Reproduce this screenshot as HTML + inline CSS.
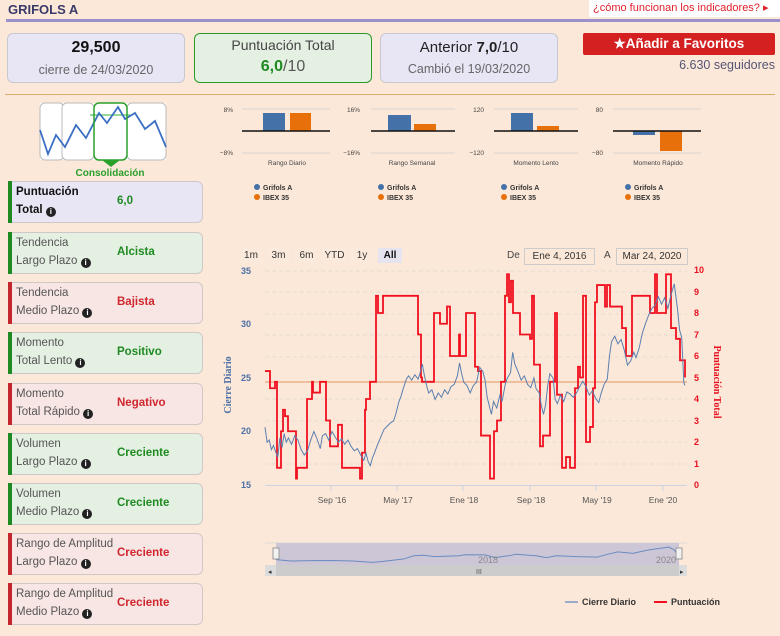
<!DOCTYPE html>
<html><head><meta charset="utf-8">
<style>
*{margin:0;padding:0;box-sizing:border-box}
body{width:780px;height:636px;background:#fce8d8;font-family:"Liberation Sans",sans-serif;position:relative;overflow:hidden;color:#333}
.a{position:absolute}
.card{position:absolute;border:1px solid #c8c8d0;border-radius:6px;text-align:center}
.lc{position:absolute;left:8px;width:195px;height:42px;border:1px solid #d0c8c8;border-radius:6px;font-size:11.5px;color:#555}
.lc .b{position:absolute;left:-1px;top:-1px;bottom:-1px;width:4px}
.lc .t1{position:absolute;left:7px;top:4px}
.lc .t2{position:absolute;left:7px;top:22px}
.lc .v{position:absolute;left:108px;top:13px;font-weight:bold;font-size:11.5px}
.g{background:#e4f0e2}.g .b{background:#1f8a22}.g .v{color:#1f8a22}
.r{background:#f8e6e4}.r .b{background:#c4262e}.r .v{color:#d0262e}
.i{display:inline-block;width:10px;height:10px;border-radius:50%;background:#222;color:#fff;font-size:8px;line-height:10px;text-align:center;font-weight:bold;vertical-align:-1px}
.btn{position:absolute;top:248px;height:15px;font-size:10px;color:#333;text-align:center;line-height:15px;background:#fbeadc}
</style></head><body>

<div class="a" style="left:8px;top:2px;font-weight:bold;font-size:13px;color:#3a3a6a">GRIFOLS A</div>
<div class="a" style="left:589px;top:0;width:191px;height:17px;background:#fff;color:#e0202a;font-size:11px;line-height:17px;padding-left:4px">¿cómo funcionan los indicadores? ▸</div>
<div class="a" style="left:6px;top:19px;width:774px;height:3px;background:#9b90cc"></div>

<div class="card" style="left:7px;top:33px;width:178px;height:50px;background:#e8e6f5">
 <div style="font-weight:bold;font-size:16px;color:#111;margin-top:5px">29,500</div>
 <div style="font-size:12.5px;color:#666;margin-top:6px">cierre de 24/03/2020</div></div>
<div class="card" style="left:194px;top:33px;width:178px;height:50px;background:#e4f1e2;border-color:#2a9a2a">
 <div style="font-size:14px;color:#444;margin-top:3px">Puntuación Total</div>
 <div style="font-size:16px;color:#555;margin-top:5px"><b style="color:#1f8a22">6,0</b>/10</div></div>
<div class="card" style="left:380px;top:33px;width:178px;height:50px;background:#e8e6f5">
 <div style="font-size:15px;color:#222;margin-top:5px">Anterior <b>7,0</b>/10</div>
 <div style="font-size:12.5px;color:#666;margin-top:6px">Cambió el 19/03/2020</div></div>
<div class="a" style="left:583px;top:33px;width:192px;height:22px;background:#d42020;border-radius:2px;color:#fff;font-weight:bold;font-size:13.5px;text-align:center;line-height:22px">★Añadir a Favoritos</div>
<div class="a" style="left:600px;top:58px;width:175px;text-align:right;font-size:12.5px;color:#555577">6.630 seguidores</div>
<div class="a" style="left:5px;top:94px;width:770px;height:1px;background:#d8ae6a"></div>

<svg class="a" style="left:0;top:0" width="780" height="636">
 <rect x="40" y="103" width="126" height="57" fill="#fff"/>
 <rect x="40" y="103" width="24" height="57" rx="5" fill="#fff" stroke="#bbb"/>
 <rect x="62" y="103" width="32" height="57" rx="5" fill="#fff" stroke="#bbb"/>
 <rect x="127" y="103" width="39" height="57" rx="5" fill="#fff" stroke="#bbb"/>
 <line x1="90" y1="115" x2="130" y2="115" stroke="#7c7" stroke-width="1.5"/>
 <polyline fill="none" stroke="#3a6fc4" stroke-width="1.8" points="40,130 48,154 56,135 65,147 76,125 86,138 99,113 107,123 118,107 125,119 135,113 145,129 155,121 166,147"/>
 <rect x="94" y="103" width="33" height="57" rx="5" fill="none" stroke="#2aa02a" stroke-width="1.5"/>
 <polygon points="102,160 120,160 111,167" fill="#2aa02a"/>
 <text x="110" y="176" font-size="10" font-weight="bold" fill="#2aa02a" text-anchor="middle">Consolidación</text>

 <g font-size="6.5" fill="#444">
 <g stroke="#e4dcd6" stroke-width="1.5"><line x1="242" y1="109" x2="330" y2="109"/><line x1="242" y1="153" x2="330" y2="153"/>
 <line x1="371" y1="109" x2="455" y2="109"/><line x1="371" y1="153" x2="455" y2="153"/>
 <line x1="494" y1="109" x2="578" y2="109"/><line x1="494" y1="153" x2="578" y2="153"/>
 <line x1="613" y1="109" x2="701" y2="109"/><line x1="613" y1="153" x2="701" y2="153"/></g>
 <text x="233" y="112" text-anchor="end">8%</text><text x="233" y="155" text-anchor="end">−8%</text>
 <text x="360" y="112" text-anchor="end">16%</text><text x="360" y="155" text-anchor="end">−16%</text>
 <text x="484" y="112" text-anchor="end">120</text><text x="484" y="155" text-anchor="end">−120</text>
 <text x="603" y="112" text-anchor="end">80</text><text x="603" y="155" text-anchor="end">−80</text>
 <rect x="263" y="113" width="22" height="18" fill="#4472a8"/><rect x="290" y="113" width="21" height="18" fill="#e8700a"/>
 <rect x="388" y="115" width="23" height="16" fill="#4472a8"/><rect x="414" y="124" width="22" height="7" fill="#e8700a"/>
 <rect x="511" y="113" width="22" height="18" fill="#4472a8"/><rect x="537" y="126" width="22" height="5" fill="#e8700a"/>
 <rect x="633" y="131" width="22" height="4" fill="#4472a8"/><rect x="660" y="131" width="22" height="20" fill="#e8700a"/>
 <g stroke="#111" stroke-width="1.5"><line x1="242" y1="131" x2="330" y2="131"/><line x1="371" y1="131" x2="455" y2="131"/><line x1="494" y1="131" x2="578" y2="131"/><line x1="613" y1="131" x2="701" y2="131"/></g>
 <text x="287" y="165" text-anchor="middle">Rango Diario</text><text x="412" y="165" text-anchor="middle">Rango Semanal</text>
 <text x="536" y="165" text-anchor="middle">Momento Lento</text><text x="658" y="165" text-anchor="middle">Momento Rápido</text>
 </g>
 <g font-size="7" font-weight="bold" fill="#333">
 <circle cx="257" cy="187" r="3" fill="#4472a8"/><circle cx="257" cy="197" r="3" fill="#e8700a"/><text x="263" y="190">Grifols A</text><text x="263" y="200">IBEX 35</text>
 <circle cx="381" cy="187" r="3" fill="#4472a8"/><circle cx="381" cy="197" r="3" fill="#e8700a"/><text x="387" y="190">Grifols A</text><text x="387" y="200">IBEX 35</text>
 <circle cx="504" cy="187" r="3" fill="#4472a8"/><circle cx="504" cy="197" r="3" fill="#e8700a"/><text x="510" y="190">Grifols A</text><text x="510" y="200">IBEX 35</text>
 <circle cx="628" cy="187" r="3" fill="#4472a8"/><circle cx="628" cy="197" r="3" fill="#e8700a"/><text x="634" y="190">Grifols A</text><text x="634" y="200">IBEX 35</text>
 </g>

 <g stroke="#e6dcd4" stroke-dasharray="4,3" stroke-width="1">
 <line x1="265" y1="271" x2="687" y2="271"/><line x1="265" y1="292" x2="687" y2="292"/><line x1="265" y1="314" x2="687" y2="314"/><line x1="265" y1="335" x2="687" y2="335"/><line x1="265" y1="357" x2="687" y2="357"/><line x1="265" y1="399" x2="687" y2="399"/><line x1="265" y1="421" x2="687" y2="421"/><line x1="265" y1="442" x2="687" y2="442"/><line x1="265" y1="464" x2="687" y2="464"/>
 </g>
 <line x1="265" y1="485.5" x2="687" y2="485.5" stroke="#ccd4e4"/>
 <g stroke="#ccd4e4"><line x1="331" y1="486" x2="331" y2="491"/><line x1="397" y1="486" x2="397" y2="491"/><line x1="463" y1="486" x2="463" y2="491"/><line x1="530" y1="486" x2="530" y2="491"/><line x1="596" y1="486" x2="596" y2="491"/><line x1="663" y1="486" x2="663" y2="491"/></g>
 <g font-size="8.5" fill="#555" text-anchor="middle"><text x="332" y="503">Sep '16</text><text x="398" y="503">May '17</text><text x="464" y="503">Ene '18</text><text x="531" y="503">Sep '18</text><text x="597" y="503">May '19</text><text x="663" y="503">Ene '20</text></g>
 <g font-size="9" font-weight="bold" fill="#4a6fa5" text-anchor="end"><text x="251" y="274">35</text><text x="251" y="327">30</text><text x="251" y="381">25</text><text x="251" y="434">20</text><text x="251" y="488">15</text></g>
 <g font-size="9" font-weight="bold" fill="#e81020"><text x="694" y="273">10</text><text x="694" y="295">9</text><text x="694" y="316">8</text><text x="694" y="338">7</text><text x="694" y="359">6</text><text x="694" y="381">5</text><text x="694" y="402">4</text><text x="694" y="424">3</text><text x="694" y="445">2</text><text x="694" y="467">1</text><text x="694" y="488">0</text></g>
 <text transform="translate(231,385) rotate(-90)" font-size="10" font-weight="bold" fill="#4a6fa5" font-family="Liberation Serif,serif" text-anchor="middle">Cierre Diario</text>
 <text transform="translate(714,382) rotate(90)" font-size="10" font-weight="bold" fill="#e81020" font-family="Liberation Serif,serif" text-anchor="middle">Puntuación Total</text>

 <line x1="265" y1="382" x2="687" y2="382" stroke="#eab08a" stroke-width="1.5"/>
 <g transform="translate(0,485) scale(1,-21.5)">
 <path fill="none" stroke="#f01020" stroke-width="1.8" vector-effect="non-scaling-stroke" d="M265 5.3 H270 V4.5 H275 V4.8 H277 V0.8 H281 V2.5 H283 V3.5 H285 V3.2 H288 V2.5 H296 V0.3 H297 V0.8 H307 V4 H312 V4.8 H313 V4.3 H320 V4.8 H326 V3 H330 V1.8 H338 V2.8 H342 V0.8 H360 V0.3 H362 V1.5 H365 V3.5 H366 V4 H370 V4.8 H376 V8.8 H378 V8 H383 V8.8 H418 V7 H421 V5 H422 V4.8 H434 V8 H440 V7.5 H447 V8.3 H450 V6 H459 V7 H460 V6 H466 V8 H475 V5.5 H478 V5.3 H481 V2.3 H490 V0.3 H494 V2.5 H497 V3 H501 V4.8 H505 V8.8 H507 V9.8 H509 V8.5 H511 V9.5 H513 V8 H520 V7 H530 V6.8 H532 V8.8 H534 V5.6 H540 V1.8 H543 V2.3 H550 V4.8 H555 V8 H557 V4.2 H562 V0.8 H566 V1.3 H570 V0.8 H575 V4.5 H578 V5.5 H580 V5 H583 V8.8 H586 V2 H590 V2.7 H593 V4.5 H595 V8.5 H597 V9.3 H605 V8.3 H607 V9.3 H610 V8.3 H622 V7.3 H626 V6 H630 V6 H632 V8.8 H650 V8 H655 V9.8 H657 V8 H666 V9.8 H671 V7.3 H676 V6.8 H680 V5.8 H685 V5"/>
 </g>
 <g transform="translate(0,645.5) scale(1,-10.7)">
 <g transform="translate(265,0) scale(1.063,1) translate(-265,0)">
 <polyline fill="none" stroke="#5a7fb0" stroke-width="1" vector-effect="non-scaling-stroke" points="265,20.4 267,19 269,19.2 271,18.3 273,18.7 275,18.1 277,17.6 279,19.4 281,18.5 283,19.8 285,19 287,19.4 290,18.8 293,19.6 296,19.2 299,18.3 302,17.8 305,18.2 308,19.2 311,20 314,19.3 317,18.4 319,19.6 322,19.8 325,19.2 328,20 331,19.5 334,19 337,19.3 340,18.8 343,19.2 346,18.6 349,18.2 352,18.4 355,17.8 358,17.3 360,18 362,17.2 364,16.8 366,17.5 368,18 371,18.8 374,19.5 377,20.2 380,20.5 383,20.8 386,21 388,21.6 391,22.8 393,23.3 395,24 398,24.9 400,25.2 403,24.8 406,25.3 409,24.9 411,25.5 413,26.3 415,25.2 417,24.3 419,23.6 422,23.9 425,23 428,23.6 431,23.2 434,23.9 437,23.5 440,24.2 443,24.4 446,25.2 448,26.4 450,25.4 452,24.6 455,24.3 458,23.6 461,24.3 464,24.6 467,26 470,25.6 472,24.8 474,23.2 476,22.4 478,21.6 480,22.8 483,22.2 486,23.4 488,22.8 491,24.4 493,25 496,25.5 498,27.4 500,26.3 503,25.6 506,24.8 509,25.2 512,24.4 515,24.1 518,25 520,24 523,23.6 525,22.4 527,21.6 529,22.5 531,24.3 533,25.4 536,25 538,23 540,22.6 543,23.4 546,22.8 549,23.7 552,23.5 555,23.2 558,23.6 561,24.2 564,24.7 567,24.2 570,23.4 573,23.8 576,23.1 579,22.7 581,23.5 584,24.4 587,24.9 589,27 591,28.4 594,28.9 597,28.2 600,28.6 603,27.6 606,26.2 609,26.6 612,27.4 614,26.9 617,27.8 620,29.2 623,30.1 626,30.9 629,31.5 632,31.8 635,32.6 638,31.9 641,32.5 644,31.5 647,32.8 650,33.8 653,31.5 655,29.5 657,28.8 659,24.6 660,24.3"/>
 </g></g>

 <line x1="265" y1="543" x2="687" y2="543" stroke="#ddd"/>
 <rect x="276" y="543" width="403" height="22" fill="#cdc6d6"/>
 <g transform="translate(0,579) scale(1,-0.95)">
 <polyline fill="none" stroke="#6a8cc0" stroke-width="1" vector-effect="non-scaling-stroke" transform="translate(5.7,0) scale(1.02,1)" points="265,20.4 280,19 300,19.4 320,19.5 340,19 360,17.5 370,18.5 390,21 400,24.5 410,25 420,23.6 445,24.5 450,25.5 470,25.4 480,22.5 495,24.8 500,26 520,24.5 530,22.5 540,24.5 560,23.5 580,23 590,26 600,28.5 615,27 630,30.5 650,33.5 655,31 660,24.3"/>
 </g>
 <text x="488" y="563" font-size="9" fill="#888" text-anchor="middle">2018</text>
 <text x="666" y="563" font-size="9" fill="#888" text-anchor="middle">2020</text>
 <rect x="273" y="548" width="6" height="11" fill="#f2f2f2" stroke="#999"/>
 <rect x="676" y="548" width="6" height="11" fill="#f2f2f2" stroke="#999"/>
 <rect x="265" y="565" width="422" height="11" fill="#dcdcdc"/>
 <rect x="276" y="565" width="403" height="11" fill="#cccccc"/>
 <text x="268" y="574" font-size="7" fill="#333">◂</text><text x="680" y="574" font-size="7" fill="#333">▸</text>
 <text x="476" y="574" font-size="7" fill="#555">III</text>

 <line x1="565" y1="602" x2="578" y2="602" stroke="#7a98c4" stroke-width="1.5"/>
 <text x="582" y="605" font-size="9" font-weight="bold" fill="#333">Cierre Diario</text>
 <line x1="654" y1="602" x2="667" y2="602" stroke="#f01020" stroke-width="2"/>
 <text x="671" y="605" font-size="9" font-weight="bold" fill="#333">Puntuación</text>
</svg>

<div class="btn" style="left:240px;width:22px">1m</div>
<div class="btn" style="left:267px;width:23px">3m</div>
<div class="btn" style="left:295px;width:23px">6m</div>
<div class="btn" style="left:322px;width:25px">YTD</div>
<div class="btn" style="left:350px;width:24px">1y</div>
<div class="btn" style="left:378px;width:24px;background:#e6e4ee;font-weight:bold;color:#111">All</div>
<div class="a" style="left:507px;top:250px;font-size:10px;color:#444">De</div>
<div class="a" style="left:524px;top:248px;width:71px;height:17px;border:1px solid #ccc;font-size:10px;text-align:center;line-height:15px;color:#333">Ene 4, 2016</div>
<div class="a" style="left:604px;top:250px;font-size:10px;color:#444">A</div>
<div class="a" style="left:616px;top:248px;width:72px;height:17px;border:1px solid #ccc;font-size:10px;text-align:center;line-height:15px;color:#333">Mar 24, 2020</div>

<div class="lc" style="top:181px;background:#e8e6f5;color:#111"><div class="b" style="background:#1f8a22"></div><div class="t1" style="font-weight:bold">Puntuación</div><div class="t2" style="font-weight:bold">Total <span class="i">i</span></div><div class="v" style="color:#1f8a22">6,0</div></div>
<div class="lc g" style="top:232px"><div class="b"></div><div class="t1">Tendencia</div><div class="t2">Largo Plazo <span class="i">i</span></div><div class="v">Alcista</div></div>
<div class="lc r" style="top:282px"><div class="b"></div><div class="t1">Tendencia</div><div class="t2">Medio Plazo <span class="i">i</span></div><div class="v">Bajista</div></div>
<div class="lc g" style="top:332px"><div class="b"></div><div class="t1">Momento</div><div class="t2">Total Lento <span class="i">i</span></div><div class="v">Positivo</div></div>
<div class="lc r" style="top:383px"><div class="b"></div><div class="t1">Momento</div><div class="t2">Total Rápido <span class="i">i</span></div><div class="v">Negativo</div></div>
<div class="lc g" style="top:433px"><div class="b"></div><div class="t1">Volumen</div><div class="t2">Largo Plazo <span class="i">i</span></div><div class="v">Creciente</div></div>
<div class="lc g" style="top:483px"><div class="b"></div><div class="t1">Volumen</div><div class="t2">Medio Plazo <span class="i">i</span></div><div class="v">Creciente</div></div>
<div class="lc r" style="top:533px"><div class="b"></div><div class="t1">Rango de Amplitud</div><div class="t2">Largo Plazo <span class="i">i</span></div><div class="v">Creciente</div></div>
<div class="lc r" style="top:583px"><div class="b"></div><div class="t1">Rango de Amplitud</div><div class="t2">Medio Plazo <span class="i">i</span></div><div class="v">Creciente</div></div>

</body></html>
